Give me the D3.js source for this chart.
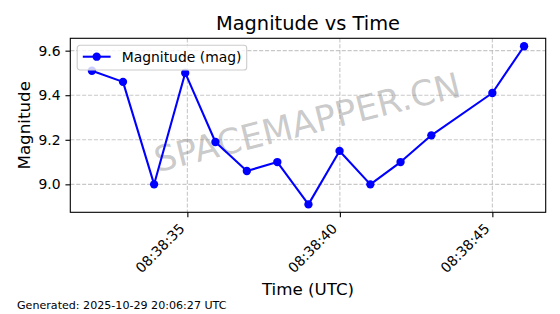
<!DOCTYPE html>
<html lang="en">
<head>
  <meta charset="utf-8">
  <title>Magnitude vs Time</title>
  <script type="text/javascript" src="https://d3js.org/d3.v7.min.js"></script>
  <style type="text/css">
    body { margin: 0; background: #fff; }
    svg { display: block; font-family: "DejaVu Sans", sans-serif; }
  </style>
</head>
<body>
<div id="chart"></div>
<script type="text/javascript">
  var times = ["08:38:31.870", "08:38:32.890", "08:38:33.910", "08:38:34.930", "08:38:35.920",
               "08:38:36.950", "08:38:37.950", "08:38:38.970", "08:38:39.990", "08:38:41.000",
               "08:38:41.990", "08:38:43.000", "08:38:45.000", "08:38:46.040"];
  var magnitudes = [9.51, 9.46, 9.00, 9.50, 9.19, 9.06, 9.10, 8.91, 9.15, 9.00, 9.10, 9.22, 9.41, 9.62];
  var yTicks = [9.0, 9.2, 9.4, 9.6];
  var seriesName = "Magnitude (mag)";
  var generated = "Generated: 2025-10-29 20:06:27 UTC";

  var width = 560, height = 314;
  // axes box in pixels (note: "top" is reserved on window, so use a prefix)
  var axLeft = 70.3, axRight = 545.7, axTop = 38.3, axBottom = 212.3;
  var tickLen = 4.86, tickPad = 4.86;
  var blue = "#0000ff";

  var parseTime = d3.utcParse("%H:%M:%S.%L");
  var data = times.map(function(t, i) {
    return { time: parseTime(t), mag: magnitudes[i] };
  });

  // matplotlib style 5% margins
  function padded(ext) {
    var m = (ext[1] - ext[0]) * 0.05;
    return [ext[0] - m, ext[1] + m];
  }
  var tExt = d3.extent(data, function(d) { return +d.time; });
  var mExt = d3.extent(data, function(d) { return d.mag; });

  var x = d3.scaleUtc()
    .domain(padded(tExt).map(function(v) { return new Date(v); }))
    .range([axLeft, axRight]);
  var y = d3.scaleLinear()
    .domain(padded(mExt))
    .range([axBottom, axTop]);

  var svg = d3.select("#chart").append("svg")
    .attr("width", width)
    .attr("height", height);

  svg.append("rect").attr("width", width).attr("height", height).attr("fill", "#fff");

  var xTicks = x.ticks(d3.utcSecond.every(5));

  // grid
  var grid = svg.append("g")
    .attr("stroke", "#b0b0b0")
    .attr("stroke-opacity", 0.7)
    .attr("stroke-width", 1.1)
    .attr("stroke-dasharray", "4.1,1.8");
  grid.selectAll(".gx").data(xTicks).enter().append("line")
    .attr("x1", function(d) { return x(d); })
    .attr("x2", function(d) { return x(d); })
    .attr("y1", axTop).attr("y2", axBottom);
  grid.selectAll(".gy").data(yTicks).enter().append("line")
    .attr("y1", function(d) { return y(d); })
    .attr("y2", function(d) { return y(d); })
    .attr("x1", axLeft).attr("x2", axRight);

  // watermark
  svg.append("text")
    .attr("transform", "translate(" + ((axLeft + axRight) / 2) + "," + ((axTop + axBottom) / 2) + ") rotate(-14)")
    .attr("text-anchor", "middle")
    .attr("dy", "0.26em")
    .attr("font-size", 35)
    .attr("fill", "#808080")
    .attr("fill-opacity", 0.42)
    .text("SPACEMAPPER.CN");

  // series
  var line = d3.line()
    .x(function(d) { return x(d.time); })
    .y(function(d) { return y(d.mag); });

  svg.append("path")
    .datum(data)
    .attr("d", line)
    .attr("fill", "none")
    .attr("stroke", blue)
    .attr("stroke-width", 2.08)
    .attr("stroke-linejoin", "round");

  svg.selectAll(".dot").data(data).enter().append("circle")
    .attr("class", "dot")
    .attr("cx", function(d) { return x(d.time); })
    .attr("cy", function(d) { return y(d.mag); })
    .attr("r", 4.17)
    .attr("fill", blue);

  // axes
  var xAxis = svg.append("g")
    .attr("transform", "translate(0," + axBottom + ")")
    .call(d3.axisBottom(x)
      .tickValues(xTicks)
      .tickFormat(d3.utcFormat("%H:%M:%S"))
      .tickSize(tickLen)
      .tickPadding(tickPad));
  xAxis.select(".domain").remove();
  xAxis.selectAll("line").attr("stroke", "#000").attr("stroke-width", 1.1);
  xAxis.selectAll("text")
    .attr("y", null).attr("dy", null)
    .attr("text-anchor", "end")
    .attr("font-family", "DejaVu Sans")
    .attr("font-size", 13.9)
    .attr("fill", "#000")
    .attr("transform", "translate(-2.3," + (tickLen + tickPad + 7.5) + ") rotate(-45)");

  var yAxis = svg.append("g")
    .attr("transform", "translate(" + axLeft + ",0)")
    .call(d3.axisLeft(y)
      .tickValues(yTicks)
      .tickFormat(d3.format(".1f"))
      .tickSize(tickLen)
      .tickPadding(tickPad));
  yAxis.select(".domain").remove();
  yAxis.selectAll("line").attr("stroke", "#000").attr("stroke-width", 1.1);
  yAxis.selectAll("text")
    .attr("font-family", "DejaVu Sans")
    .attr("font-size", 13.9)
    .attr("fill", "#000");

  // frame
  svg.append("rect")
    .attr("x", axLeft).attr("y", axTop)
    .attr("width", axRight - axLeft).attr("height", axBottom - axTop)
    .attr("fill", "none")
    .attr("stroke", "#000")
    .attr("stroke-width", 1.1);

  // legend
  var legend = svg.append("g").attr("transform", "translate(77.2,45.2)");
  legend.append("rect")
    .attr("width", 169.5).attr("height", 24.8)
    .attr("rx", 2.8)
    .attr("fill", "#fff").attr("fill-opacity", 0.8)
    .attr("stroke", "#cccccc").attr("stroke-width", 1.1);
  legend.append("line")
    .attr("x1", 5.6).attr("x2", 33.4)
    .attr("y1", 11.5).attr("y2", 11.5)
    .attr("stroke", blue).attr("stroke-width", 2.08);
  legend.append("circle")
    .attr("cx", 19.5).attr("cy", 11.5).attr("r", 4.17)
    .attr("fill", blue);
  legend.append("text")
    .attr("x", 44.5).attr("y", 16.4)
    .attr("font-size", 13.9)
    .text(seriesName);

  // titles
  svg.append("text")
    .attr("x", (axLeft + axRight) / 2).attr("y", 29.5)
    .attr("text-anchor", "middle")
    .attr("font-size", 19.4)
    .text("Magnitude vs Time");

  svg.append("text")
    .attr("x", (axLeft + axRight) / 2).attr("y", 295)
    .attr("text-anchor", "middle")
    .attr("font-size", 16.7)
    .text("Time (UTC)");

  svg.append("text")
    .attr("transform", "translate(30," + ((axTop + axBottom) / 2) + ") rotate(-90)")
    .attr("text-anchor", "middle")
    .attr("font-size", 16.7)
    .text("Magnitude");

  svg.append("text")
    .attr("x", 17).attr("y", 309)
    .attr("font-size", 11.1)
    .text(generated);
</script>
</body>
</html>
